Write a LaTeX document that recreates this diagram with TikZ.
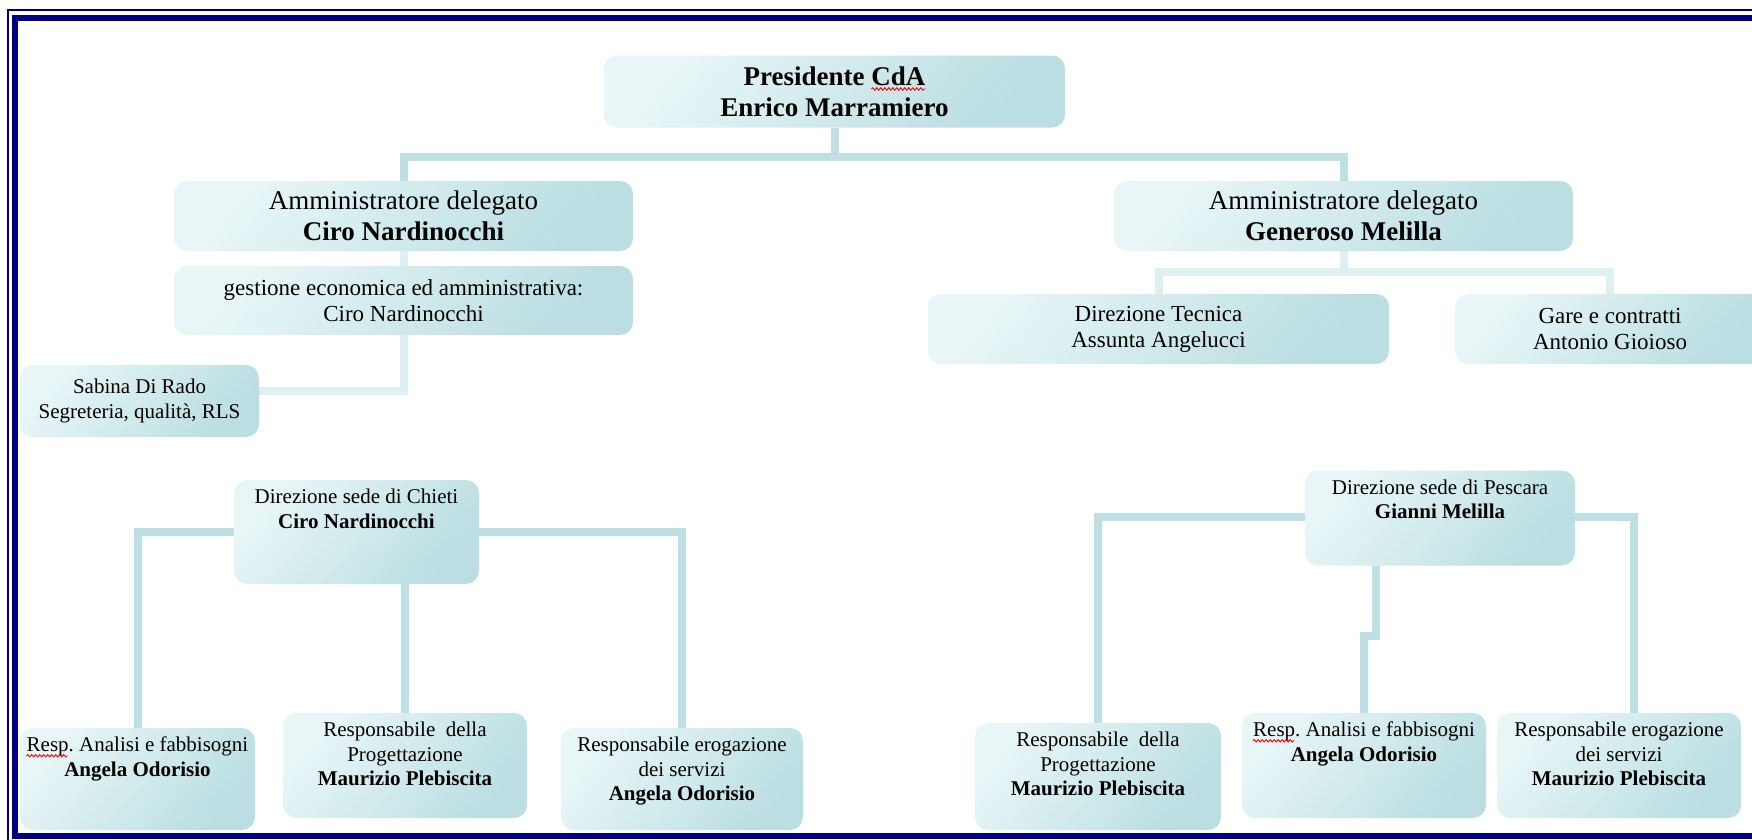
\documentclass[tikz,border=0pt]{standalone}
\usepackage{fontspec}
\setmainfont{Liberation Serif}
\usetikzlibrary{decorations.pathmorphing}
\frenchspacing
\definecolor{navyb}{RGB}{0,0,128}
\definecolor{wirec}{RGB}{190,224,228}
\definecolor{wirelc}{RGB}{222,240,242}
\definecolor{boxl}{RGB}{233,246,247}
\definecolor{boxd}{RGB}{186,222,226}
\pgfdeclarelayer{bg}
\pgfdeclarelayer{fg}
\pgfsetlayers{bg,main,fg}
\begin{document}
\begin{tikzpicture}[x=1pt,y=-1pt,
  box/.style={rounded corners=13pt, top color=boxl, middle color=boxl!60!boxd, bottom color=boxd, shading angle=50, inner sep=0pt, align=center},
  wire/.style={line width=8pt, draw=wirec},
  wirel/.style={line width=8pt, draw=wirelc},
  big/.style={font=\fontsize{27}{31}\selectfont},
  mid/.style={font=\fontsize{23}{26}\selectfont},
  sml/.style={font=\fontsize{21}{24.5}\selectfont},
  lbl/.style={anchor=north, inner sep=0pt, align=center},
  spell/.style={draw=red, line width=0.9pt, decorate, decoration={snake, amplitude=1.2pt, segment length=4pt}}]
\useasboundingbox (0,0) rectangle (1752,839);

% boxes
\node[box, big, minimum width=461pt, minimum height=72pt] (pres) at (834.5,91.5) {\textbf{Presidente CdA}\\\textbf{Enrico Marramiero}};
\node[box, big, minimum width=459pt, minimum height=70pt] (adl) at (403.5,216) {Amministratore delegato\\\textbf{Ciro Nardinocchi}};
\node[box, big, minimum width=459pt, minimum height=70pt] (adr) at (1343.5,216) {Amministratore delegato\\\textbf{Generoso Melilla}};
\node[box, mid, minimum width=459pt, minimum height=69pt] (ges) at (403.5,300.5) {gestione economica ed amministrativa:\\Ciro Nardinocchi};
\node[box, sml, minimum width=239pt, minimum height=72pt] (sab) at (139.5,401) {Sabina Di Rado\\Segreteria, qualità, RLS};
\node[box, mid, minimum width=461pt, minimum height=70pt] (dt) at (1158.5,329) {Direzione Tecnica\\Assunta Angelucci};
\node[box, mid, minimum width=310pt, minimum height=70pt] (gc) at (1610,329) {Gare e contratti\\Antonio Gioioso};

\node[box, minimum width=245pt, minimum height=104pt] (chi) at (356.5,532) {};
\node[box, minimum width=270pt, minimum height=95pt] (pes) at (1440,518) {};
\node[box, minimum width=235pt, minimum height=102pt] (ral) at (137.5,779) {};
\node[box, minimum width=244pt, minimum height=105pt] (rpl) at (405,765.5) {};
\node[box, minimum width=242pt, minimum height=102pt] (rel) at (682,779) {};
\node[box, minimum width=246pt, minimum height=107pt] (rpr) at (1098,776.5) {};
\node[box, minimum width=244pt, minimum height=105pt] (rar) at (1364,765.5) {};
\node[box, minimum width=244pt, minimum height=105pt] (rer) at (1619,765.5) {};

% top-aligned texts
\node[lbl, sml] (chiT) at ([yshift=-9pt]chi.north) {Direzione sede di Chieti\\\textbf{Ciro Nardinocchi}};
\node[lbl, sml] (pesT) at ([yshift=-9pt]pes.north) {Direzione sede di Pescara\\\textbf{Gianni Melilla}};
\node[lbl, sml] (ralT) at ([yshift=-9pt]ral.north) {Resp. Analisi e fabbisogni\\\textbf{Angela Odorisio}};
\node[lbl, sml] (rplT) at ([yshift=-9pt]rpl.north) {Responsabile\ \ della\\Progettazione\\\textbf{Maurizio Plebiscita}};
\node[lbl, sml] (relT) at ([yshift=-9pt]rel.north) {Responsabile erogazione\\dei servizi\\\textbf{Angela Odorisio}};
\node[lbl, sml] (rprT) at ([yshift=-9pt]rpr.north) {Responsabile\ \ della\\Progettazione\\\textbf{Maurizio Plebiscita}};
\node[lbl, sml] (rarT) at ([yshift=-9pt]rar.north) {Resp. Analisi e fabbisogni\\\textbf{Angela Odorisio}};
\node[lbl, sml] (rerT) at ([yshift=-9pt]rer.north) {Responsabile erogazione\\dei servizi\\\textbf{Maurizio Plebiscita}};

% spell-check underlines
\draw[spell] ([shift={(37,-2.5)}]pres.center) -- ([shift={(91,-2.5)}]pres.center);
\draw[spell] ([yshift=-19pt]ralT.north west) -- ([shift={(41,19)}]ralT.north west);
\draw[spell] ([yshift=-19pt]rarT.north west) -- ([shift={(41,19)}]rarT.north west);

% connectors
\coordinate (presbar) at (835,156.5);
\coordinate (sabbar) at (0,391);
\coordinate (subbar) at (0,272);
\coordinate (chbar) at (0,532);
\coordinate (pebar) at (0,517);
\coordinate (jog) at (1375.5,636);
\coordinate (rerin) at ([xshift=15pt]rer.north);
\begin{pgfonlayer}{bg}
\fill[white] (0,0) rectangle (1752,839);
\draw[wire] (pres.south) -- (pres.south |- presbar);
\draw[wire] (adl.north) -- (adl.north |- presbar) -- (adr.north |- presbar) -- (adr.north);
\draw[wirel] (adl.south) -- (adl.south |- sabbar) -- (sab.east |- sabbar);
\draw[wirel] (adr.south) -- (adr.south |- subbar);
\draw[wirel] (dt.north) -- (dt.north |- subbar) -- (gc.north |- subbar) -- (gc.north);
\draw[wire] (ral.north) -- (ral.north |- chbar) -- (rel.north |- chbar) -- (rel.north);
\draw[wire] (rpl.north) -- (rpl.north |- chi.south);
\draw[wire] (rpr.north) -- (rpr.north |- pebar) -- (rerin |- pebar) -- (rerin);
\draw[wire] (rar.north) -- (rar.north |- jog) -- (jog) -- (jog |- pes.south);
\end{pgfonlayer}

% frame
\begin{pgfonlayer}{fg}
\clip (0,0) rectangle (1752,839);
\draw[navyb, line width=2pt] (8,10) rectangle (1800,880);
\draw[navyb, line width=6pt] (14.5,17.5) rectangle (1800,835.5);
\end{pgfonlayer}
\end{tikzpicture}
\end{document}
